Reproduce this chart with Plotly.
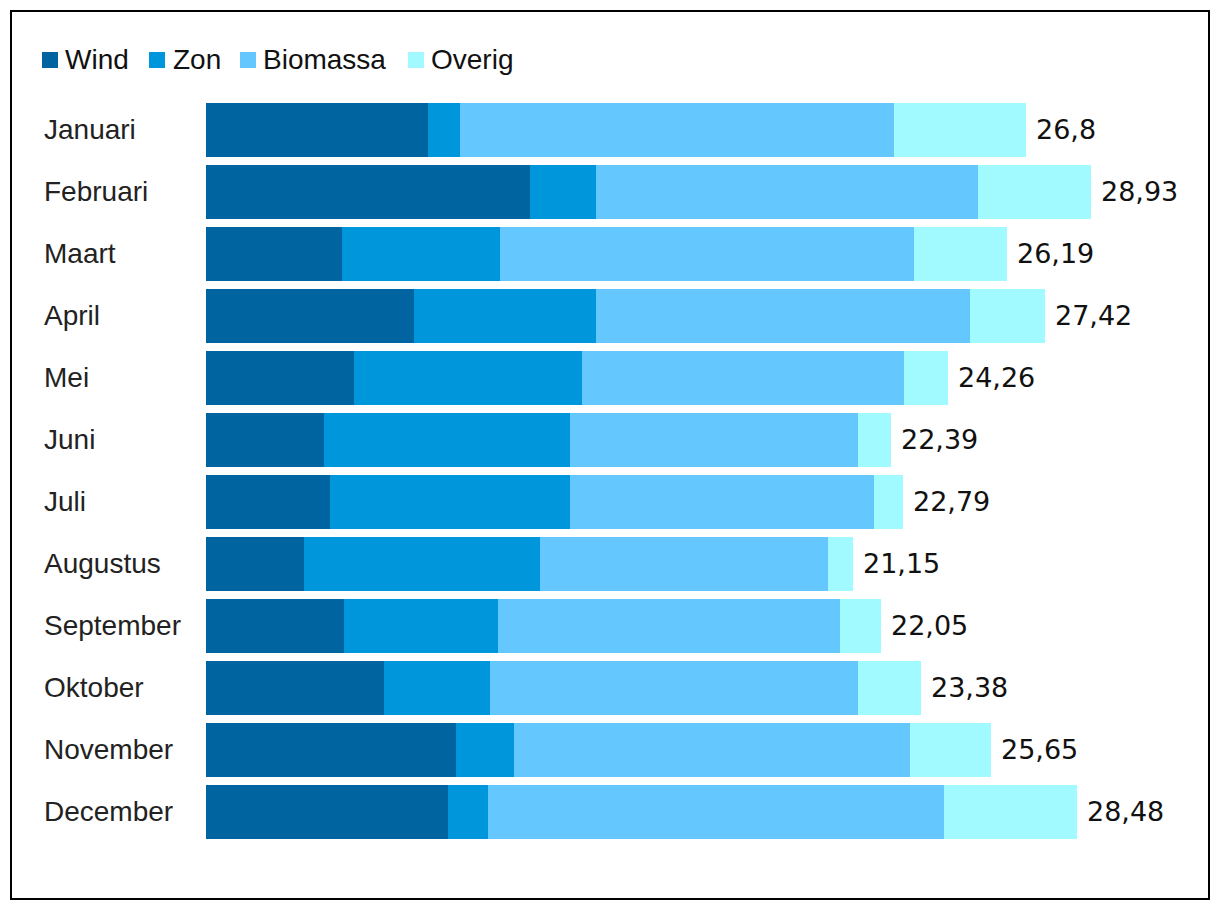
import plotly.graph_objects as go

months = ["Januari", "Februari", "Maart", "April", "Mei", "Juni", "Juli",
          "Augustus", "September", "Oktober", "November", "December"]
wind = [7.25, 10.59, 4.44, 6.80, 4.84, 3.86, 4.05, 3.20, 4.51, 5.82, 8.17, 7.91]
zon = [1.05, 2.16, 5.16, 5.95, 7.45, 8.04, 7.84, 7.71, 5.03, 3.46, 1.90, 1.31]
biomassa = [14.18, 12.48, 13.53, 12.22, 10.52, 9.41, 9.93, 9.41, 11.18, 12.03, 12.94, 14.90]
overig = [4.32, 3.70, 3.06, 2.45, 1.45, 1.08, 0.97, 0.83, 1.33, 2.07, 2.64, 4.36]
totals = [26.8, 28.93, 26.19, 27.42, 24.26, 22.39, 22.79, 21.15, 22.05, 23.38, 25.65, 28.48]
total_labels = ["26,8", "28,93", "26,19", "27,42", "24,26", "22,39", "22,79",
                "21,15", "22,05", "23,38", "25,65", "28,48"]

series_names = ["Wind", "Zon", "Biomassa", "Overig"]
series_values = [wind, zon, biomassa, overig]
series_colors = ["#0064A0", "#0096DC", "#64C8FF", "#A0FAFF"]

# page offset (browser body margin)
OFF = 8
W, H = 1220 - OFF, 912 - OFF
L, R, T, B = 206 - OFF, 35, 99 - OFF, 69
pw, ph = W - L - R, H - T - B

def px_x(x):
    return (x - OFF - L) / pw

def px_y(y):
    return (H - B - (y - OFF)) / ph

fig = go.Figure()
for name, vals, col in zip(series_names, series_values, series_colors):
    fig.add_trace(go.Bar(y=months, x=vals, name=name, orientation="h",
                         marker=dict(color=col, line=dict(width=0)), showlegend=False))

LABEL_FONT = "Liberation Sans"
NUM_FONT = "DejaVu Sans"
annotations = []
for m, t, lab in zip(months, totals, total_labels):
    annotations.append(dict(x=t, y=m, xref="x", yref="y", text=lab, showarrow=False,
                            xanchor="left", xshift=8, yshift=1,
                            font=dict(family=NUM_FONT, size=27, color="#111")))
for m in months:
    annotations.append(dict(x=px_x(42), y=m, xref="paper", yref="y", text=m,
                            showarrow=False, xanchor="left", yshift=1,
                            font=dict(family=LABEL_FONT, size=28, color="#222")))

# custom legend
legend_sq_x = [42, 149, 240, 408]
legend_txt_x = [64, 172, 262, 430]
shapes = []
for name, col, sx, tx in zip(series_names, series_colors, legend_sq_x, legend_txt_x):
    shapes.append(dict(type="rect", xref="paper", yref="paper",
                       x0=px_x(sx), x1=px_x(sx + 16), y0=px_y(68), y1=px_y(52),
                       line=dict(width=0), fillcolor=col))
    annotations.append(dict(x=px_x(tx - 1), y=px_y(60), xref="paper", yref="paper", text=name,
                            showarrow=False, xanchor="left", yanchor="middle",
                            font=dict(family=LABEL_FONT, size=28, color="#111")))

shapes.append(dict(type="rect", xref="paper", yref="paper",
                   x0=px_x(11), x1=px_x(1209), y0=px_y(899), y1=px_y(11),
                   line=dict(color="black", width=2), fillcolor="rgba(0,0,0,0)"))

fig.update_layout(
    width=W, height=H,
    margin=dict(l=L, r=R, t=T, b=B),
    barmode="stack", bargap=0.13,
    paper_bgcolor="white", plot_bgcolor="white",
    xaxis=dict(range=[0, 32], visible=False),
    yaxis=dict(categoryorder="array", categoryarray=months, autorange="reversed",
               showticklabels=False, showgrid=False, zeroline=False),
    showlegend=False,
    annotations=annotations,
    shapes=shapes,
)

fig.write_html("out.html")
